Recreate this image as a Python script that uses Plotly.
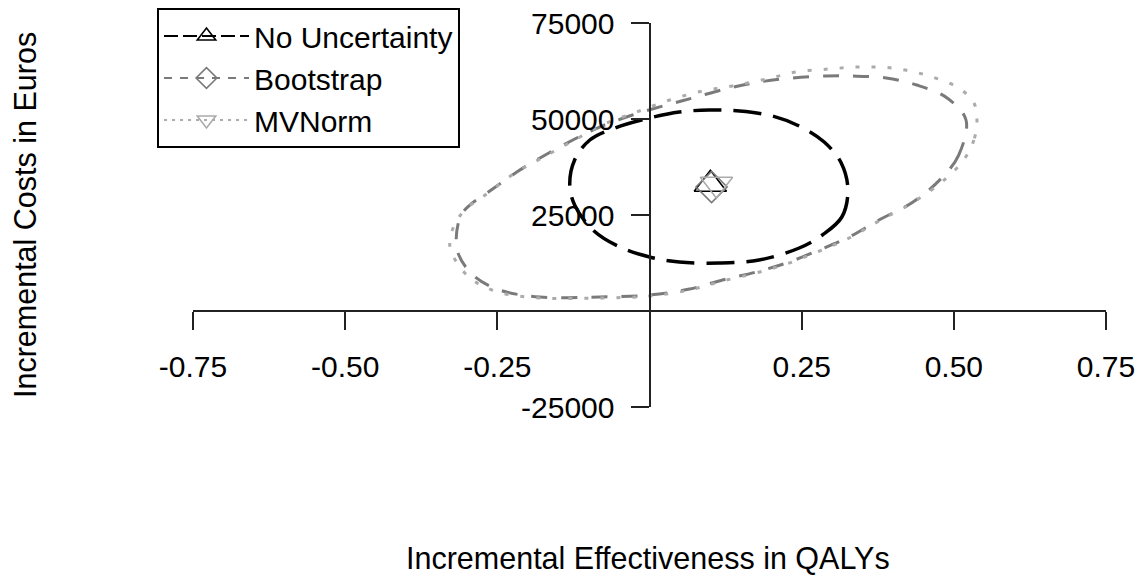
import plotly.graph_objects as go

# ---- data ----
# No Uncertainty confidence ellipse (QALY, Euro)
nu_x = [0.326, 0.316, 0.284, 0.246, 0.180, 0.115, 0.049, 0.000, -0.049, -0.093, -0.123, -0.131,
        -0.123, -0.098, -0.057, 0.000, 0.049, 0.098, 0.148, 0.202, 0.246, 0.287, 0.315, 0.326]
nu_y = [31510, 24480, 19790, 16410, 13280, 12500, 12760, 14060, 16670, 21090, 27600, 32810,
        39320, 44530, 47650, 50260, 51820, 52340, 52080, 50780, 48170, 44010, 38540, 31510]

# Bootstrap ellipse
bs_x = [0.520, 0.508, 0.480, 0.433, 0.377, 0.328, 0.279, 0.225, 0.175, 0.120, 0.066, 0.000,
        -0.082, -0.180, -0.246, -0.290, -0.316, -0.311, -0.295, -0.267, -0.218, -0.180, -0.126,
        -0.082, -0.028, 0.028, 0.077, 0.131, 0.180, 0.234, 0.290, 0.333, 0.389, 0.439, 0.489, 0.520]
bs_y = [49740, 40620, 34630, 28380, 23700, 19270, 15880, 12500, 10160, 8070, 5730, 4170,
        3650, 3650, 5470, 9370, 15880, 24480, 27600, 30730, 36200, 39840, 44530,
        47910, 51040, 53640, 55730, 58070, 59630, 60670, 61190, 61190, 60670, 58850, 55470, 49740]

# MVNorm ellipse
mv_x = [0.538, 0.533, 0.516, 0.484, 0.434, 0.377, 0.328, 0.279, 0.225, 0.175, 0.120, 0.066,
        0.000, -0.082, -0.180, -0.249, -0.295, -0.325, -0.328, -0.318, -0.300, -0.270, -0.221,
        -0.180, -0.126, -0.074, -0.021, 0.033, 0.087, 0.136, 0.192, 0.241, 0.295, 0.344, 0.398,
        0.454, 0.508, 0.533, 0.538]
mv_y = [49740, 44530, 39320, 34110, 28380, 23440, 19010, 15620, 12240, 9900, 7810, 5470,
        3910, 3390, 3390, 4950, 8590, 15100, 18490, 23180, 26820, 30210, 35940,
        39580, 44270, 48690, 51820, 54940, 57290, 58590, 60410, 62240, 63020, 63540, 63280,
        61450, 58070, 54160, 49740]

# point estimates
series = ["No Uncertainty", "Bootstrap", "MVNorm"]
pt_x = [0.100, 0.102, 0.110]
pt_y = [33000, 32300, 33000]

x_ticks = [-0.75, -0.50, -0.25, 0.25, 0.50, 0.75]
x_labels = ["-0.75", "-0.50", "-0.25", "0.25", "0.50", "0.75"]
y_ticks = [-25000, 25000, 50000, 75000]
y_labels = ["-25000", "25000", "50000", "75000"]

# ---- styles ----
FONT = "Liberation Sans, Arial, sans-serif"
colors = ["#000000", "#7a7a7a", "#ababab"]
symbols = ["triangle-up-open", "diamond-open", "triangle-down-open"]
msize = [28, 24, 28]
ell_dash = ["28px,12px", "16px,14px", "4px,12px"]
leg_dash = ["14px,5px", "8px,8px", "3px,5px"]
ell_width = [3.5, 3, 3]

fig = go.Figure()
for ex, ey, c, d, w in zip([nu_x, bs_x, mv_x], [nu_y, bs_y, mv_y], colors, ell_dash, ell_width):
    fig.add_trace(go.Scatter(x=ex, y=ey, mode="lines", showlegend=False, hoverinfo="skip",
                             line=dict(color=c, dash=d, width=w, shape="spline", smoothing=1.0)))

for i in range(3):
    fig.add_trace(go.Scatter(x=[pt_x[i]], y=[pt_y[i]], mode="lines+markers", name=series[i],
                             marker=dict(symbol=symbols[i], size=msize[i], color=colors[i],
                                         line=dict(color=colors[i], width=1.6)),
                             line=dict(color=colors[i], dash=leg_dash[i], width=2)))

W, H = 1142, 578
L, R, T, B = 193, W - 1106, 23, H - 407
pw, ph = W - L - R, H - T - B

fig.update_layout(
    width=W, height=H,
    margin=dict(l=L, r=R, t=T, b=B, autoexpand=False),
    paper_bgcolor="white", plot_bgcolor="white",
    font=dict(family=FONT, size=30, color="#000000"),
    showlegend=True,
    legend=dict(x=(157 - L) / pw, y=(H - B - 8) / ph, xanchor="left", yanchor="top",
                bordercolor="#000000", borderwidth=2, bgcolor="white",
                font=dict(family=FONT, size=30, color="#000000"),
                tracegroupgap=0, itemwidth=85),
    xaxis=dict(range=[-0.75, 0.75], anchor="free", position=0.25, automargin=False,
               showgrid=False, zeroline=False, showline=True, linecolor="#222", linewidth=2,
               ticks="outside", ticklen=18, tickwidth=2, tickcolor="#222",
               tickvals=x_ticks, ticktext=x_labels, ticklabelstandoff=11,
               tickfont=dict(family=FONT, size=30, color="#000")),
    yaxis=dict(range=[-25000, 75000], anchor="free", position=0.5, automargin=False,
               showgrid=False, zeroline=False, showline=True, linecolor="#222", linewidth=2,
               ticks="outside", ticklen=18, tickwidth=2, tickcolor="#222",
               tickvals=y_ticks, ticktext=y_labels, ticklabelstandoff=10,
               tickfont=dict(family=FONT, size=30, color="#000")),
    annotations=[
        dict(text="Incremental Effectiveness in QALYs", xref="paper", yref="paper",
             x=(648 - L) / pw, y=(H - B - 558) / ph, showarrow=False,
             xanchor="center", yanchor="middle", font=dict(family=FONT, size=30.5, color="#000")),
        dict(text="Incremental Costs in Euros", xref="paper", yref="paper",
             x=(25 - L) / pw, y=(H - B - 215) / ph, showarrow=False, textangle=-90,
             xanchor="center", yanchor="middle", font=dict(family=FONT, size=30.5, color="#000")),
    ],
)

fig.write_html("out.html")
